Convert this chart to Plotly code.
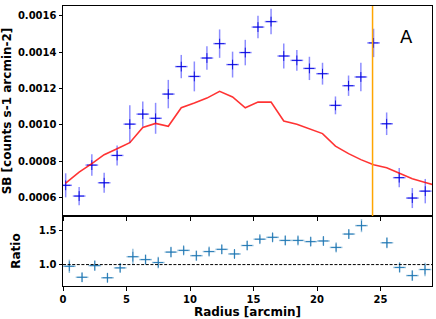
import plotly.graph_objects as go

# ---------------- data ----------------
sb_radius = [0.21, 1.27, 2.27, 3.24, 4.26, 5.26, 6.28, 7.29, 8.29, 9.31,
             10.34, 11.33, 12.33, 13.35, 14.35, 15.35, 16.38, 17.38, 18.41, 19.40,
             20.43, 21.45, 22.48, 23.45, 24.45, 25.48, 26.47, 27.50, 28.52]
sb_value = [0.000668, 0.000609, 0.000779, 0.000682, 0.000832, 0.001004, 0.001059, 0.001036, 0.001169, 0.001320,
            0.001266, 0.001367, 0.001446, 0.001331, 0.001397, 0.001537, 0.001567, 0.001378, 0.001354, 0.001310,
            0.001281, 0.001107, 0.001215, 0.001263, 0.001450, 0.001006, 0.000710, 0.000598, 0.000636]
sb_error = [0.000066, 0.000050, 0.000059, 0.000055, 0.000055, 0.000104, 0.000069, 0.000085, 0.000078, 0.000064,
            0.000082, 0.000064, 0.000078, 0.000071, 0.000070, 0.000062, 0.000070, 0.000069, 0.000057, 0.000064,
            0.000060, 0.000049, 0.000056, 0.000078, 0.000078, 0.000062, 0.000053, 0.000055, 0.000067]
bin_half_width = [0.5] * 29

model_radius = sb_radius + [29.5]
model_value = [0.000680, 0.000741, 0.000787, 0.000836, 0.000869, 0.000902, 0.000986, 0.001008, 0.000992, 0.001094,
               0.001120, 0.001147, 0.001184, 0.001153, 0.001094, 0.001125, 0.001125, 0.001021, 0.001003, 0.000979,
               0.000952, 0.000883, 0.000842, 0.000809, 0.000781, 0.000765, 0.000735, 0.000704, 0.000684, 0.000664]

ratio_radius = [0.5, 1.5, 2.5, 3.5, 4.5, 5.5, 6.5, 7.5, 8.5, 9.5,
                10.5, 11.5, 12.5, 13.5, 14.5, 15.5, 16.5, 17.5, 18.5, 19.5,
                20.5, 21.5, 22.5, 23.5, 25.5, 26.5, 27.5, 28.5]
ratio_value = [0.975, 0.815, 0.985, 0.808, 0.952, 1.115, 1.073, 1.030, 1.182, 1.207,
               1.130, 1.190, 1.222, 1.155, 1.278, 1.370, 1.397, 1.352, 1.352, 1.335,
               1.344, 1.250, 1.445, 1.568, 1.318, 0.958, 0.840, 0.928]
ratio_error = [0.097, 0.067, 0.075, 0.066, 0.063, 0.115, 0.070, 0.084, 0.079, 0.058,
               0.073, 0.056, 0.066, 0.062, 0.064, 0.055, 0.062, 0.068, 0.057, 0.065,
               0.063, 0.055, 0.067, 0.096, 0.081, 0.072, 0.078, 0.098]
ratio_half_width = [0.5] * 28

mark_radius = 24.37
panel_label = "A"

x_ticks = [0, 5, 10, 15, 20, 25]
sb_ticks = [0.0006, 0.0008, 0.0010, 0.0012, 0.0014, 0.0016]
ratio_ticks = [1.0, 1.5]

# ---------------- figure ----------------
FONT = "DejaVu Sans"
fig = go.Figure()

fig.add_trace(go.Scatter(
    x=sb_radius, y=sb_value, mode="markers",
    marker=dict(symbol="cross-thin", size=7, line=dict(color="rgba(0,0,220,0.85)", width=1)),
    error_y=dict(type="data", array=sb_error, color="rgba(0,0,255,0.45)", thickness=1.5, width=0),
    error_x=dict(type="data", array=bin_half_width, color="rgba(0,0,255,0.45)", thickness=1.5, width=0),
    xaxis="x", yaxis="y", showlegend=False))

fig.add_trace(go.Scatter(
    x=model_radius, y=model_value, mode="lines",
    line=dict(color="rgba(255,0,0,0.8)", width=1.6),
    xaxis="x", yaxis="y", showlegend=False))

fig.add_trace(go.Scatter(
    x=ratio_radius, y=ratio_value, mode="markers",
    marker=dict(symbol="cross-thin", size=7, line=dict(color="rgba(31,119,180,0.9)", width=1)),
    error_y=dict(type="data", array=ratio_error, color="rgba(31,119,180,0.45)", thickness=1.5, width=0),
    error_x=dict(type="data", array=ratio_half_width, color="rgba(31,119,180,0.45)", thickness=1.5, width=0),
    xaxis="x2", yaxis="y2", showlegend=False))

axis_common = dict(showline=True, linecolor="black", linewidth=1, mirror=True,
                   ticks="outside", ticklen=3.5, tickcolor="black", tickwidth=1,
                   showgrid=False, zeroline=False, automargin=False,
                   tickfont=dict(family=FONT, size=10, color="black", weight="bold"))
title_font = dict(family=FONT, size=12, color="black", weight="bold")

fig.update_layout(
    width=436, height=319, autosize=False,
    margin=dict(l=63, r=4, t=6, b=33, autoexpand=False),
    paper_bgcolor="white", plot_bgcolor="white",
    xaxis=dict(domain=[0, 1], range=[0, 29.05], anchor="y",
               tickvals=x_ticks, showticklabels=False, **axis_common),
    yaxis=dict(domain=[0.25, 1], range=[0.0004995, 0.0016527], anchor="x",
               tickvals=sb_ticks, tickformat=".4f",
               title=dict(text="SB [counts s-1 arcmin-2]", font=title_font),
               **axis_common),
    xaxis2=dict(domain=[0, 1], range=[0, 29.05], anchor="y2",
                tickvals=x_ticks,
                title=dict(text="Radius [arcmin]", font=title_font),
                **axis_common),
    yaxis2=dict(domain=[0, 0.25], range=[0.688, 1.708], anchor="x2",
                tickvals=ratio_ticks, tickformat=".1f",
                title=dict(text="Ratio", font=title_font),
                **axis_common),
    shapes=[
        dict(type="line", xref="x", yref="y domain", x0=mark_radius, x1=mark_radius, y0=0, y1=1,
             line=dict(color="orange", width=1.5)),
        dict(type="line", xref="x2 domain", yref="y2", x0=0, x1=1, y0=1.0, y1=1.0,
             line=dict(color="black", width=1, dash="3px,1.6px")),
    ],
    annotations=[
        dict(text=panel_label, xref="x domain", yref="y domain", x=0.931, y=0.856,
             xanchor="center", yanchor="middle",
             showarrow=False, font=dict(family=FONT, size=18, color="black")),
    ],
)

fig.write_html("out.html", config={"displayModeBar": False},
               post_script="document.body.style.margin='0';document.body.style.overflow='hidden';")
